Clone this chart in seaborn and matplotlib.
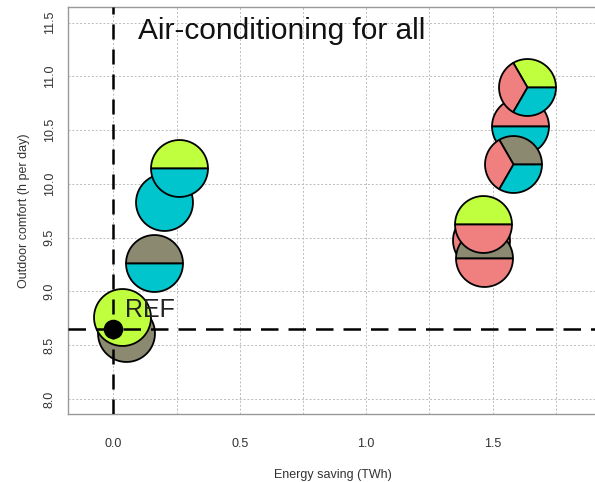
import numpy as np
import pandas as pd
import matplotlib
matplotlib.use("Agg")
import matplotlib.pyplot as plt
from matplotlib.path import Path
from matplotlib.ticker import MultipleLocator
import seaborn as sns

# scenario points (drawing order = back to front)
energy_saving = [0.050, 0.034, 0.161, 0.200, 0.260, 1.454, 1.466, 1.462, 1.608, 1.580, 1.636]
outdoor_comfort = [8.614, 8.762, 9.268, 9.832, 10.148, 9.479, 9.311, 9.627, 10.539, 10.186, 10.902]
# measures combined in each scenario (slice order counter-clockwise from 3 o'clock)
measures = [
    ["shading"],
    ["greening"],
    ["shading", "albedo"],
    ["albedo"],
    ["greening", "albedo"],
    ["ac"],
    ["shading", "ac"],
    ["greening", "ac"],
    ["ac", "albedo"],
    ["shading", "ac", "albedo"],
    ["greening", "ac", "albedo"],
]
measure_colors = {
    "greening": "#C0FF3E",
    "shading": "#8B8970",
    "ac": "#F08080",
    "albedo": "#00C5CD",
}
ref_x = [0.0]
ref_y = [8.65]


def wedge_marker(t1, t2):
    if t2 - t1 >= 360:
        th = np.radians(np.linspace(0, 360, 121))
        verts = np.column_stack([np.cos(th), np.sin(th)])
        codes = [Path.MOVETO] + [Path.LINETO] * (len(verts) - 2) + [Path.CLOSEPOLY]
        return Path(verts, codes)
    th = np.radians(np.linspace(t1, t2, 80))
    verts = np.vstack([[0, 0], np.column_stack([np.cos(th), np.sin(th)]), [0, 0]])
    codes = [Path.MOVETO] + [Path.LINETO] * (len(verts) - 2) + [Path.CLOSEPOLY]
    return Path(verts, codes)


# one row per slice
rows = []
for i, (x, y, ms) in enumerate(zip(energy_saving, outdoor_comfort, measures)):
    step = 360.0 / len(ms)
    for k, m in enumerate(ms):
        rows.append({"point": i, "x": x, "y": y, "t1": k * step, "t2": (k + 1) * step, "measure": m})
slices = pd.DataFrame(rows)

sns.set_theme(style="white")
plt.rcParams["font.family"] = ["Liberation Sans", "DejaVu Sans"]

fig = plt.figure(figsize=(5.95, 4.82), dpi=100)
ax = fig.add_axes([68.3 / 595, 1 - 414 / 482, (598 - 68.3) / 595, (414 - 7) / 482])

for _, r in slices.iterrows():
    sns.scatterplot(x=[r["x"]], y=[r["y"]], marker=wedge_marker(r["t1"], r["t2"]),
                    s=1680, color=measure_colors[r["measure"]], edgecolor="black",
                    linewidth=1.3, ax=ax, legend=False, zorder=3)

sns.scatterplot(x=ref_x, y=ref_y, s=170, color="black", edgecolor="black",
                ax=ax, legend=False, zorder=5)

ax.axhline(ref_y[0], color="black", lw=1.8, ls=(0, (7, 4)), zorder=4)
ax.axvline(ref_x[0], color="black", lw=1.8, ls=(0, (6, 4)), zorder=4)

ax.text(0.045, 8.83, "REF", fontsize=18, va="center", ha="left", color="#222222", zorder=6)
ax.text(0.097, 11.42, "Air-conditioning for all", fontsize=21.5, va="center", ha="left",
        color="#111111", zorder=6)

ax.set_xlim(-0.178, 1.917)
ax.set_ylim(7.86, 11.646)
ax.xaxis.set_minor_locator(MultipleLocator(0.25))
ax.set_xticks([0.0, 0.5, 1.0, 1.5])
ax.set_xticklabels(["0.0", "0.5", "1.0", "1.5"])
ax.set_yticks([8.0, 8.5, 9.0, 9.5, 10.0, 10.5, 11.0, 11.5])
ax.set_yticklabels(["8.0", "8.5", "9.0", "9.5", "10.0", "10.5", "11.0", "11.5"],
                   rotation=90, va="center")

ax.grid(True, which="major", color="#BBBBBB", ls=(0, (2, 2)), lw=0.7)
ax.grid(True, which="minor", axis="x", color="#BBBBBB", ls=(0, (2, 2)), lw=0.7)
ax.set_axisbelow(True)

ax.tick_params(axis="both", which="major", direction="out", length=5, width=0.8,
               color="#888888", labelsize=9, labelcolor="#333333", pad=12)
ax.tick_params(axis="y", pad=4)
ax.tick_params(axis="both", which="minor", length=0)
for sp in ax.spines.values():
    sp.set_color("#999999")
    sp.set_linewidth(1.0)

ax.set_xlabel("Energy saving (TWh)", fontsize=9, color="#333333", labelpad=14)
ax.set_ylabel("Outdoor comfort (h per day)", fontsize=9, color="#333333", labelpad=10)

fig.savefig("out.png", dpi=100)
